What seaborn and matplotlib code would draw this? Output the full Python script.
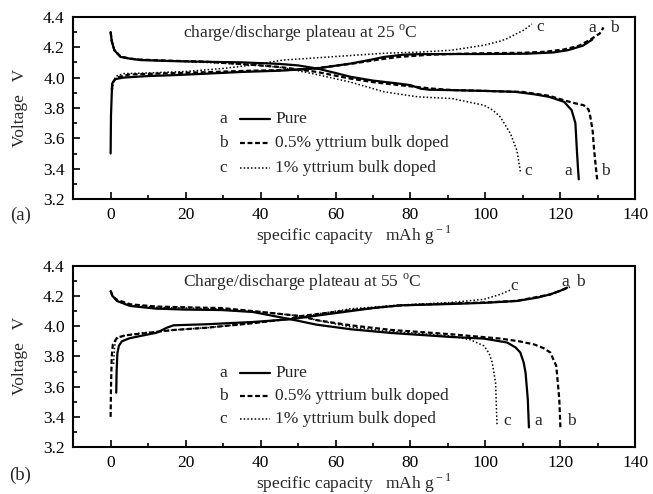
import numpy as np
import pandas as pd
import seaborn as sns
import matplotlib
matplotlib.use("Agg")
import matplotlib.pyplot as plt
from matplotlib.ticker import MultipleLocator
from matplotlib.lines import Line2D

sns.set_style("white")
plt.rcParams['font.family'] = ['Liberation Serif', 'DejaVu Serif']
plt.rcParams['mathtext.fontset'] = 'custom'
plt.rcParams['mathtext.rm'] = 'Liberation Serif'

samples = ["a", "b", "c"]
sample_names = ["Pure", "0.5% yttrium bulk doped", "1% yttrium bulk doped"]
panel_titles = ["charge/discharge plateau at 25 $^{\\rm o}$C",
                "Charge/discharge plateau at 55 $^{\\rm o}$C"]
xlabel_text = "specific capacity   mAh g$^{\\rm -1}$"
ylabel_text = "Voltage   V"
panel_tags = ["(a)", "(b)"]

# ---- 25 C ----
a25_ch_x = [0, 0.1, 0.4, 1.3, 3.5, 10, 17, 25, 35, 45, 55, 64, 70, 73, 78, 82, 91, 100, 111, 118, 122, 126, 128.5]
a25_ch_y = [3.50, 3.75, 3.96, 3.99, 4.00, 4.01, 4.016, 4.025, 4.037, 4.045, 4.06, 4.092, 4.12, 4.136, 4.15, 4.154, 4.155, 4.155, 4.157, 4.165, 4.18, 4.21, 4.25]
a25_dis_x = [0, 0.3, 1, 2.6, 5, 8, 17, 25, 35, 45, 50, 55, 60, 64, 70, 77, 80, 82.7, 85, 91, 100, 108, 113, 117, 121, 123, 124, 124.4, 124.7, 124.9]
a25_dis_y = [4.30, 4.24, 4.18, 4.136, 4.125, 4.115, 4.108, 4.104, 4.10, 4.09, 4.08, 4.06, 4.03, 4.005, 3.98, 3.96, 3.95, 3.927, 3.92, 3.917, 3.912, 3.906, 3.89, 3.873, 3.84, 3.785, 3.70, 3.52, 3.40, 3.33]
b25_ch_x = [0.3, 0.6, 1.5, 5, 15, 25, 37, 48, 55, 64, 72, 77, 85, 91, 100, 110, 116, 121, 125, 128, 130.5, 131.5]
b25_ch_y = [3.92, 3.97, 4.00, 4.02, 4.028, 4.035, 4.045, 4.05, 4.062, 4.09, 4.12, 4.136, 4.15, 4.155, 4.16, 4.163, 4.17, 4.185, 4.21, 4.25, 4.29, 4.33]
b25_dis_x = [0, 0.3, 1, 2.6, 5, 8, 17, 25, 37, 45, 55, 64, 70, 77, 86, 91, 100, 110, 117, 121, 124, 126.2, 127.5, 128, 128.6, 129, 129.5, 129.8]
b25_dis_y = [4.30, 4.24, 4.18, 4.14, 4.125, 4.118, 4.11, 4.105, 4.085, 4.07, 4.037, 3.993, 3.97, 3.95, 3.927, 3.918, 3.912, 3.905, 3.88, 3.85, 3.83, 3.818, 3.79, 3.74, 3.65, 3.52, 3.40, 3.33]
c25_ch_x = [0.5, 0.8, 1.5, 3.5, 10, 20, 30, 37, 46, 55, 64, 73, 82, 91, 99.6, 104, 105.8, 108, 110.2, 112.4]
c25_ch_y = [3.92, 3.98, 4.01, 4.026, 4.03, 4.04, 4.06, 4.08, 4.115, 4.13, 4.145, 4.16, 4.167, 4.18, 4.213, 4.24, 4.257, 4.285, 4.312, 4.352]
c25_dis_x = [0, 0.3, 1, 2.6, 5, 10, 20, 30, 40, 46, 55, 64, 73, 82, 91, 99.6, 102, 104, 106.7, 108.4, 109.4]
c25_dis_y = [4.30, 4.24, 4.18, 4.14, 4.125, 4.115, 4.105, 4.095, 4.08, 4.065, 4.02, 3.97, 3.906, 3.873, 3.862, 3.818, 3.785, 3.74, 3.63, 3.52, 3.37]

# ---- 55 C ----
a55_ch_x = [1.5, 1.6, 1.8, 2.2, 3.0, 5, 7.9, 12.3, 15, 16.8, 25.7, 38, 48, 55, 64, 70, 77.3, 90.7, 100, 108.4, 114, 117.3, 120, 121.8]
a55_ch_y = [3.56, 3.70, 3.82, 3.87, 3.90, 3.92, 3.935, 3.957, 3.99, 4.006, 4.013, 4.028, 4.046, 4.07, 4.10, 4.12, 4.138, 4.147, 4.155, 4.167, 4.19, 4.211, 4.235, 4.255]
a55_dis_x = [0, 0.5, 1.7, 5.2, 12.3, 20, 29.6, 38, 48, 55, 64, 75, 90.7, 99.6, 105.8, 108, 109.3, 110.2, 110.7, 111.3, 111.6]
a55_dis_y = [4.233, 4.20, 4.167, 4.134, 4.116, 4.11, 4.107, 4.094, 4.046, 4.01, 3.98, 3.955, 3.929, 3.918, 3.892, 3.86, 3.826, 3.76, 3.693, 3.517, 3.33]
b55_ch_x = [0, 0.1, 0.3, 0.6, 1.7, 4, 7.9, 16.8, 25.7, 38, 48, 50.7, 55, 64, 77.3, 90.7, 100, 108.4, 117.3, 120, 122.5]
b55_ch_y = [3.40, 3.60, 3.80, 3.88, 3.924, 3.94, 3.95, 3.975, 3.99, 4.02, 4.05, 4.067, 4.08, 4.106, 4.138, 4.15, 4.157, 4.168, 4.21, 4.235, 4.26]
b55_dis_x = [0, 0.5, 1.7, 5.2, 12.3, 20, 29.6, 38, 50.7, 55, 64, 75, 90.7, 104, 109, 112.9, 115.5, 117.3, 118.9, 119.7, 120]
b55_dis_y = [4.235, 4.20, 4.175, 4.145, 4.13, 4.125, 4.12, 4.10, 4.067, 4.04, 4.006, 3.975, 3.947, 3.918, 3.90, 3.88, 3.855, 3.826, 3.737, 3.517, 3.33]
c55_ch_x = [0.8, 1.0, 1.3, 2, 4, 7.9, 16.8, 25.7, 38, 48, 55, 64, 77.3, 90.7, 99.6, 104, 107.1]
c55_ch_y = [3.75, 3.85, 3.90, 3.925, 3.94, 3.955, 3.975, 3.99, 4.02, 4.05, 4.08, 4.115, 4.14, 4.157, 4.178, 4.211, 4.244]
c55_dis_x = [0, 0.5, 1.7, 5.2, 12.3, 20, 29.6, 38, 50.7, 55, 64, 75, 90.7, 96, 99.6, 101, 101.8, 102.7, 103.1]
c55_dis_y = [4.23, 4.20, 4.17, 4.14, 4.125, 4.12, 4.115, 4.10, 4.067, 4.04, 3.995, 3.965, 3.936, 3.91, 3.87, 3.82, 3.76, 3.627, 3.34]

series = {
    0: {"a": [(a25_ch_x, a25_ch_y), (a25_dis_x, a25_dis_y)],
        "b": [(b25_ch_x, b25_ch_y), (b25_dis_x, b25_dis_y)],
        "c": [(c25_ch_x, c25_ch_y), (c25_dis_x, c25_dis_y)]},
    1: {"a": [(a55_ch_x, a55_ch_y), (a55_dis_x, a55_dis_y)],
        "b": [(b55_ch_x, b55_ch_y), (b55_dis_x, b55_dis_y)],
        "c": [(c55_ch_x, c55_ch_y), (c55_dis_x, c55_dis_y)]},
}

styles = {"a": dict(linestyle="-", linewidth=1.6),
          "b": dict(linestyle=(0, (2.2, 1.2)), linewidth=1.6),
          "c": dict(linestyle=(0, (1, 1.4)), linewidth=1.1)}

# end labels (sample letter, x, y)
end_labels = {
    0: [("c", 114.5, 4.33), ("a", 128.5, 4.325), ("b", 134.5, 4.325),
        ("c", 111.5, 3.385), ("a", 122.0, 3.385), ("b", 132.0, 3.385)],
    1: [("c", 107.8, 4.265), ("a", 121.2, 4.29), ("b", 125.2, 4.29),
        ("c", 105.8, 3.37), ("a", 114.0, 3.37), ("b", 122.8, 3.37)],
}

fig = plt.figure(figsize=(6.53, 4.94), dpi=100)
axes_pos = [[0.112, 0.597, 0.861, 0.369], [0.112, 0.095, 0.861, 0.367]]
legend_y = [[0.44, 0.307, 0.17], [0.41, 0.283, 0.156]]
tag_y = [0.565, 0.038]
fs = 12.5

for p in range(2):
    ax = fig.add_axes(axes_pos[p])
    for s in samples:
        for seg, (xs, ys) in enumerate(series[p][s]):
            df = pd.DataFrame({"capacity": xs, "voltage": ys})
            sns.lineplot(data=df, x="capacity", y="voltage", ax=ax, sort=False,
                         estimator=None, color="black", **styles[s])
    ax.set_xlim(-10, 140)
    ax.set_ylim(3.2, 4.4)
    ax.xaxis.set_major_locator(MultipleLocator(20))
    ax.xaxis.set_minor_locator(MultipleLocator(10))
    ax.yaxis.set_major_locator(MultipleLocator(0.2))
    ax.yaxis.set_minor_locator(MultipleLocator(0.1))
    ax.set_yticks(np.arange(3.2, 4.41, 0.2))
    ax.set_yticklabels([f"{v:.1f}" for v in np.arange(3.2, 4.41, 0.2)])
    ax.set_xticks(np.arange(0, 141, 20))
    ax.tick_params(which="both", direction="in", labelsize=fs, colors="black",
                   bottom=True, left=True, top=False, right=False, width=1.2)
    ax.tick_params(which="major", length=5, pad=6)
    ax.tick_params(which="minor", length=3)
    for sp in ax.spines.values():
        sp.set_linewidth(1.5)
        sp.set_color("black")
    ax.set_xlabel(xlabel_text, fontsize=fs, labelpad=0)
    ax.set_ylabel(ylabel_text, fontsize=fs, labelpad=11)
    ax.text(0.195, 0.91, panel_titles[p], transform=ax.transAxes, fontsize=fs,
            ha="left", va="center")
    # legend
    for i, s in enumerate(samples):
        yy = legend_y[p][i]
        ax.text(0.267, yy, s, transform=ax.transAxes, fontsize=fs, ha="center", va="center")
        ln = Line2D([0.297, 0.35], [yy, yy], transform=ax.transAxes, color="black", **styles[s])
        ax.add_line(ln)
        ax.text(0.359, yy, sample_names[i], transform=ax.transAxes, fontsize=fs,
                ha="left", va="center")
    for (s, x, y) in end_labels[p]:
        ax.text(x, y, s, fontsize=fs, ha="center", va="center")
    if ax.get_legend() is not None:
        ax.get_legend().remove()
    fig.text(0.031, tag_y[p], panel_tags[p], fontsize=fs + 1, ha="center", va="center")

fig.savefig("out.png", dpi=100)
